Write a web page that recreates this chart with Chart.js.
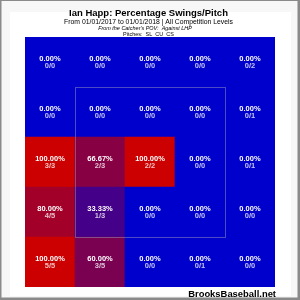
<!DOCTYPE html>
<html>
<head>
<meta charset="utf-8">
<style>
  html, body { margin: 0; padding: 0; background: #fff; }
  #wrap { width: 300px; height: 300px; position: relative; }
</style>
<script src="https://cdn.jsdelivr.net/npm/chart.js@4.4.1/dist/chart.umd.min.js"></script>
</head>
<body>
<div id="wrap"><canvas id="c" width="300" height="300"></canvas></div>
<script>
// ---- Data (rows listed top to bottom, columns left to right, catcher's POV) ----
const columns = ['C1', 'C2', 'C3', 'C4', 'C5'];
const rowNames = ['R1', 'R2', 'R3', 'R4', 'R5'];
const swings = [
  [0, 0, 0, 0, 0],
  [0, 0, 0, 0, 0],
  [3, 2, 2, 0, 0],
  [4, 1, 0, 0, 0],
  [5, 3, 0, 0, 0]
];
const pitches = [
  [0, 0, 0, 0, 2],
  [0, 0, 0, 0, 1],
  [3, 3, 2, 0, 1],
  [5, 3, 0, 0, 0],
  [5, 5, 0, 1, 0]
];
const titleText = 'Ian Happ: Percentage Swings/Pitch';
const subtitleText = 'From 01/01/2017 to 01/01/2018 | All Competition Levels';
const povText = "From the Catcher's POV:  Against LHP";
const pitchesText = 'Pitches:  SL  CU  CS';
const watermark = 'BrooksBaseball.net';

function pct(r, c) { return pitches[r][c] ? swings[r][c] / pitches[r][c] : 0; }
function cellColor(p) {
  const r = Math.round(204 * p), b = Math.round(204 * (1 - p));
  return `rgb(${r},0,${b})`;
}

// datasets: stacked bottom to top
const datasets = [];
for (let i = rowNames.length - 1; i >= 0; i--) {
  datasets.push({
    label: rowNames[i],
    rowIndex: i,
    data: columns.map(() => 1),
    backgroundColor: columns.map((_, c) => cellColor(pct(i, c))),
    borderWidth: 0,
    borderSkipped: false,
    barPercentage: 1.0,
    categoryPercentage: 1.0
  });
}

const FONT = '"Liberation Sans", Arial, sans-serif';

function fitFont(ctx, text, weight, style, size, targetW) {
  ctx.font = `${style} ${weight} ${size}px ${FONT}`;
  const w = ctx.measureText(text).width;
  const s = size * targetW / w;
  ctx.font = `${style} ${weight} ${s}px ${FONT}`;
}

const framePlugin = {
  id: 'frame',
  beforeDraw(chart) {
    const ctx = chart.ctx;
    ctx.save();
    ctx.fillStyle = '#f7f7f7';
    ctx.fillRect(0, 0, 300, 300);
    ctx.fillStyle = '#ffffff';
    ctx.fillRect(10, 12, 281, 284);
    ctx.fillStyle = '#8a8a8a';
    ctx.fillRect(0, 0, 1.5, 300);
    ctx.fillRect(0, 0, 300, 1);
    ctx.fillRect(297.5, 0, 2.5, 300);
    ctx.fillRect(0, 297.5, 300, 2.5);
    ctx.restore();
  },
  afterDraw(chart) {
    const ctx = chart.ctx;
    const xs = chart.scales.x, ys = chart.scales.y;
    ctx.save();
    // strike zone (inner 3x3)
    const step = xs.getPixelForValue(1) - xs.getPixelForValue(0);
    const szL = xs.getPixelForValue(1) - step / 2, szR = szL + 3 * step;
    const szT = ys.getPixelForValue(4), szB = ys.getPixelForValue(1);
    ctx.strokeStyle = 'rgba(150,150,190,0.5)';
    ctx.lineWidth = 1;
    ctx.strokeRect(Math.round(szL) + 0.5, Math.round(szT) + 0.5, szR - szL, szB - szT);

    // cell labels
    ctx.textAlign = 'center';
    ctx.textBaseline = 'middle';
    for (let r = 0; r < rowNames.length; r++) {
      const yTop = ys.getPixelForValue(rowNames.length - r);
      const yBot = ys.getPixelForValue(rowNames.length - r - 1);
      const cy = (yTop + yBot) / 2;
      for (let c = 0; c < columns.length; c++) {
        const cx = xs.getPixelForValue(c);
        const p = pct(r, c);
        ctx.fillStyle = '#ffffff';
        ctx.font = `bold 7.5px ${FONT}`;
        ctx.fillText((p * 100).toFixed(2) + '%', cx, cy - 3);
        ctx.fillStyle = 'rgba(255,255,255,0.75)';
        ctx.font = `bold 7.5px ${FONT}`;
        ctx.fillText(swings[r][c] + '/' + pitches[r][c], cx, cy + 4);
      }
    }

    // titles
    ctx.fillStyle = '#000';
    ctx.textBaseline = 'alphabetic';
    fitFont(ctx, titleText, 'bold', 'normal', 11, 159);
    ctx.fillText(titleText, 148.5, 16);
    fitFont(ctx, subtitleText, 'normal', 'normal', 8, 169);
    ctx.fillText(subtitleText, 148.5, 23.5);
    fitFont(ctx, povText, 'normal', 'italic', 6, 94);
    ctx.fillText(povText, 145, 30);
    fitFont(ctx, pitchesText, 'normal', 'normal', 6, 51);
    ctx.fillText(pitchesText, 148.5, 36);

    // watermark
    ctx.textAlign = 'right';
    fitFont(ctx, watermark, 'bold', 'normal', 10, 88);
    ctx.fillText(watermark, 276, 297);
    ctx.restore();
  }
};

new Chart(document.getElementById('c'), {
  type: 'bar',
  data: { labels: columns, datasets },
  options: {
    responsive: false,
    animation: false,
    devicePixelRatio: 1,
    layout: { padding: { left: 25, right: 25, top: 37, bottom: 13 } },
    plugins: { legend: { display: false }, tooltip: { enabled: false }, title: { display: false } },
    scales: {
      x: { display: false, stacked: true, grid: { display: false } },
      y: { display: false, stacked: true, min: 0, max: 5, grid: { display: false } }
    }
  },
  plugins: [framePlugin]
});
</script>
</body>
</html>
